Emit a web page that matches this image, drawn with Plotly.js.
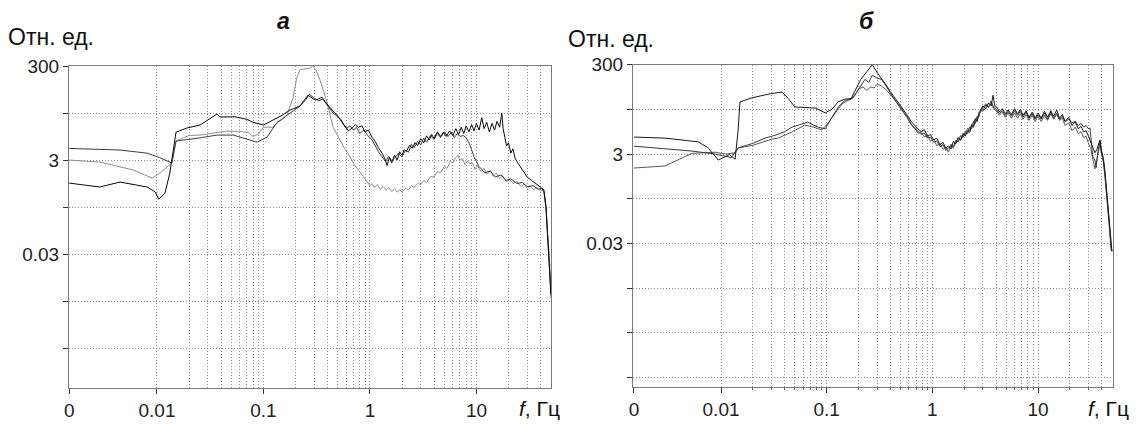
<!DOCTYPE html>
<html>
<head>
<meta charset="utf-8">
<script src="https://cdn.plot.ly/plotly-3.0.1.min.js"></script>
<style>
  html, body { margin: 0; padding: 0; background: #fff; }
  #chart { width: 1140px; height: 424px; }
</style>
</head>
<body>
<div id="chart"></div>
<script>
// ---------- Panel "а" (left) ----------
const leftF1 = [0.0015,0.0029,0.0045,0.0081,0.0096,0.0104,0.0119,0.0132,0.0151,0.0191,0.0254,0.0366,0.039,0.054,0.07,0.08,0.1,0.123,0.15,0.177,0.22,0.262,0.285,0.305,0.33,0.354,0.39,0.42,0.47,0.53,0.58,0.63,0.68,0.73,0.78,0.84,0.9,0.97,1.05,1.12,1.2,1.3,1.38,1.45,1.52,1.6,1.7,1.8,1.9,2.0,2.1,2.2,2.35,2.5,2.65,2.8,3.0,3.2,3.4,3.6,3.8,4.0,4.3,4.6,4.9,5.2,5.6,6.0,6.4,6.8,7.2,7.6,8.0,8.5,9.0,9.5,10,10.6,11.2,11.8,12.5,13.2,14,14.8,15.6,16.5,17.3,17.8,18.5,19.2,20,21,22,23,24.5,26,28,30,33,36,40,43,45,47,49,50];
const leftV1 = [0.97,0.80,1.02,0.80,0.63,0.44,0.60,1.59,11.8,14.4,16.7,28.6,24.7,25,22,19,16.7,21.3,27,34.7,42.3,72,62,56.7,60,65.6,48,40,30,22,16,12.5,14.5,17,15,16,12,13,9,7.5,5.5,4.2,3.2,2.3,3.4,2.6,3.8,3.0,4.5,3.8,5.0,4.6,6.2,5.4,7.0,6.1,8.5,7.0,9.8,8.0,10.5,8.6,12,9.5,11.8,9.6,12.5,10,14,10.5,15,11,16,12,17,12.5,18,13,24,14,19,12,18,13,20,15,30,14,9,6,7,4.2,5.2,3.3,2.6,2.1,1.6,1.3,1.1,0.95,0.82,0.7,0.3,0.06,0.015,0.004];

const leftF2 = [0.0015,0.0029,0.006,0.009,0.0107,0.0138,0.0151,0.02,0.0254,0.0366,0.045,0.06,0.072,0.08,0.09,0.1,0.123,0.143,0.166,0.19,0.205,0.22,0.25,0.27,0.29,0.31,0.34,0.39,0.45,0.52,0.58,0.65,0.72,0.8,0.87,0.93,1.0,1.05,1.1,1.17,1.25,1.33,1.42,1.5,1.6,1.7,1.8,1.9,2.0,2.15,2.3,2.45,2.6,2.8,3.0,3.2,3.4,3.7,4.0,4.3,4.6,5.0,5.3,5.7,6.0,6.4,6.7,7.0,7.4,7.8,8.2,8.7,9.2,9.7,10.2,11,11.8,12.6,13.5,14.4,15.4,16.5,17.6,19,20.3,22,24,26,28,30,32,34.5,37,40,42,43.5,45,46.5,48,49.5,50];
const leftV2 = [3.0,2.72,1.84,1.24,1.59,2.59,7.6,10,10.2,11.8,12.4,12.2,11.5,9.5,11,15,15,21,27,65,165,250,265,270,300,250,150,57,15,8,5.2,3.5,2.3,1.7,1.3,1.05,0.85,0.95,0.78,0.9,0.72,0.82,0.68,0.78,0.64,0.74,0.62,0.7,0.63,0.75,0.7,0.85,0.78,0.95,0.9,1.1,1.0,1.35,1.3,1.7,1.6,2.2,2.0,2.8,2.6,3.4,3.8,3.0,3.2,2.4,2.9,2.5,2.6,1.9,2.3,1.7,2.0,1.5,1.8,1.35,1.6,1.2,1.4,1.05,1.2,0.95,1.05,0.82,0.92,0.75,0.85,0.7,0.78,0.65,0.72,0.55,0.25,0.08,0.035,0.01,0.0035];

const leftF3 = [0.0015,0.003,0.0045,0.0081,0.0105,0.0138,0.0151,0.0254,0.0366,0.052,0.075,0.087,0.108,0.134,0.15,0.17,0.19,0.22,0.25,0.27,0.3,0.33,0.36,0.4,0.45,0.5,0.55,0.6,0.65,0.7,0.75,0.8,0.88,0.95,1.05,1.12,1.2,1.3,1.4,1.5,1.6,1.7,1.85,2.0,2.15,2.3,2.45,2.6,2.8,3.0,3.2,3.4,3.7,4.0,4.3,4.6,5.0,5.4,5.8,6.2,6.6,7.0,7.5,8.0,8.5,9.0,9.5,10,10.5,11,12,13.5,15,17,19,21,24,27,30,34,38,41,43,45,47,49,50];
const leftV3 = [5.3,5.0,4.9,4.2,3.4,2.6,7.6,8.9,10.2,10.2,8,7.2,9.2,19,22,28,33,42,58,75,62,55,60,42,30,25,18,14,16,13,15,11,13,10,8,6,4.5,3.5,2.8,3.6,2.9,3.3,4.2,3.5,4.8,4.4,6.5,5.5,7.5,6.3,8.8,7.2,10,8.2,11,9,12,9.5,11.5,9,11,9.5,10,9,7,5,3.5,2.8,2.2,2.0,1.6,1.75,1.3,1.45,1.1,1.2,0.95,1.0,0.82,0.85,0.72,0.75,0.62,0.3,0.05,0.012,0.0045];

// ---------- Panel "б" (right) ----------
const rightF1 = [0.0015,0.003,0.0061,0.0075,0.0094,0.012,0.0136,0.0145,0.0151,0.02,0.03,0.038,0.044,0.05,0.062,0.078,0.097,0.112,0.128,0.149,0.17,0.19,0.21,0.24,0.27,0.3,0.33,0.37,0.4,0.44,0.48,0.53,0.58,0.63,0.68,0.73,0.78,0.84,0.9,0.96,1.03,1.1,1.18,1.26,1.34,1.42,1.5,1.58,1.66,1.75,1.85,1.95,2.05,2.15,2.25,2.35,2.45,2.55,2.65,2.75,2.85,3.0,3.2,3.4,3.6,3.75,3.9,4.1,4.3,4.6,4.9,5.2,5.6,6.0,6.4,6.8,7.2,7.7,8.2,8.8,9.4,10,10.7,11.5,12.3,13.2,14,15,16,17,18,19.5,21,22.5,24,25.5,27,28.5,30,31.5,33,34.5,36,37.5,38.5,40,41.5,43,44.5,46,47.5,49,50];
const rightV1 = [7.2,6.8,5.6,4.2,2.2,2.9,2.3,10,44,55,68,73,50,34,33,32,25,30,44,51,52,85,140,210,300,200,150,100,75,55,42,31,22,16,13,11,9.5,10.5,7.5,8.2,6.2,6.8,4.8,5.5,4.0,4.6,3.9,5.8,5.0,7.0,6.2,8.5,7.6,10,9,13,12,18,16,25,28,36,31,42,36,62,35,33,26,31,24,29,23,31,24,30,22,28,20,26,19,25,19,27,20,28,21,29,19,23,16,20,13,16,11,12.5,9.5,10,7.5,5.5,4.0,3.2,3.8,5.5,6.2,3.5,2.4,1.2,0.5,0.2,0.08,0.03,0.02];

const rightF2 = [0.0015,0.003,0.0053,0.0088,0.011,0.0125,0.0136,0.0145,0.02,0.026,0.0325,0.04,0.047,0.066,0.083,0.097,0.112,0.13,0.15,0.17,0.19,0.21,0.23,0.25,0.27,0.3,0.33,0.37,0.4,0.44,0.48,0.53,0.58,0.63,0.68,0.73,0.78,0.84,0.9,0.96,1.03,1.1,1.18,1.26,1.34,1.42,1.5,1.58,1.66,1.75,1.85,1.95,2.05,2.15,2.25,2.35,2.45,2.55,2.65,2.75,2.85,3.0,3.2,3.4,3.6,3.8,4.0,4.3,4.6,4.9,5.2,5.6,6.0,6.4,6.8,7.2,7.7,8.2,8.8,9.4,10,10.7,11.5,12.3,13.2,14,15,16,17,18,19.5,21,22.5,24,25.5,27,28.5,30,31,32,33,34.5,35.5,36.5,37.5,38.5,40,41.5,43,44.5,46,47.5,49,50];
const rightV2 = [4.5,4.0,3.5,3.0,2.7,2.5,3.3,4.1,5.2,6.8,7.9,9.5,12,15.5,12,11,20,35,48,50,70,100,140,120,175,150,140,95,70,48,38,28,20,14,11,9.8,8.2,8.9,6.8,7.2,5.5,5.9,4.4,4.9,3.6,4.1,4.6,4.4,6.0,5.6,7.8,7.0,9.5,8.6,12,11,16,14.5,21,20,30,27,38,33,46,33,31,24,28,22,27,21,28,22,27,20,26,19,24,18,23,18,25,18,26,19,25,18,21,16,18,15,16,13,14.5,12,13,11,11.5,5,2.6,2.2,1.5,3.0,4.5,5.8,3.0,2.2,1.0,0.45,0.18,0.07,0.025,0.02];

const rightF3 = [0.0015,0.00295,0.0053,0.0088,0.011,0.0136,0.0145,0.02,0.0304,0.0346,0.047,0.062,0.075,0.09,0.103,0.12,0.14,0.16,0.18,0.2,0.22,0.24,0.26,0.28,0.3,0.33,0.37,0.4,0.44,0.48,0.53,0.58,0.63,0.68,0.73,0.78,0.84,0.9,0.96,1.03,1.1,1.18,1.26,1.34,1.42,1.5,1.58,1.66,1.75,1.85,1.95,2.05,2.15,2.25,2.35,2.45,2.55,2.65,2.75,2.85,3.0,3.2,3.4,3.6,3.8,4.0,4.3,4.6,4.9,5.2,5.6,6.0,6.4,6.8,7.2,7.7,8.2,8.8,9.4,10,10.7,11.5,12.3,13.2,14,15,16,17,18,19.5,21,22.5,24,25.5,27,28.5,30,31.5,33,34.5,36,37.5,38.5,40,41.5,43,44.5,46,47.5,49,50];
const rightV3 = [1.46,1.62,3.1,3.3,3.0,3.2,4.1,4.7,6.5,6.8,9.4,13.3,12,10.4,14.8,24.8,40,48,55,85,95,80,95,90,110,100,80,64,50,36,26,19,13.5,12,8.8,9.2,7.2,7.8,5.8,6.4,4.6,5.2,3.8,4.3,3.3,5.0,4.0,5.5,6.6,6.0,8.8,8.0,11.5,10,14,13,19,17,23,26,31,40,35,39,31,28,22,26,20,25,19,25,19,24,18,23,17,22,16,21,16,22,17,24,18,23,17,19,13,15,10,12,8.5,9.5,7,7.5,5.2,4.0,2.3,1.4,2.2,4.0,5.0,2.8,2.0,0.9,0.4,0.15,0.06,0.022,0.02];

// ---------- Ticks / labels ----------
const xTickVals = [0.0015, 0.01, 0.1, 1, 10];
const xTickText = ["0", "0.01", "0.1", "1", "10"];
const xGridVals = [0.02,0.03,0.04,0.05,0.06,0.07,0.08,0.09,0.2,0.3,0.4,0.5,0.6,0.7,0.8,0.9,2,3,4,5,6,7,8,9,20,30,40];
const yTickVals = [300, 30, 3, 0.3, 0.03, 0.003, 0.0003, 0.00003];
const yTickText = ["300", "", "3", "", "0.03", "", "", ""];
const panelTitles = ["а", "б"];
const yLabel = "Отн. ед.";
const xLabel = "<i>f</i>, Гц";

const W = 1140, H = 424;
const FONT = '"Liberation Sans", Arial, sans-serif';
const GRID = '#8f8f8f';
const DASH = '1px,2px';

function xAxis(d0, d1, range, anchor, minorTicks) {
  return {
    type: 'log', range: range, domain: [d0 / W, d1 / W], anchor: anchor,
    tickmode: 'array', tickvals: xTickVals, ticktext: xTickText,
    ticks: 'outside', ticklen: 5, tickwidth: 1, tickcolor: '#333',
    showline: true, linecolor: '#7a7a7a', linewidth: 1, mirror: true,
    showgrid: true, gridcolor: GRID, griddash: DASH, gridwidth: 1,
    minor: { tickmode: 'array', tickvals: xGridVals, showgrid: true, gridcolor: GRID,
             griddash: DASH, gridwidth: 1, ticks: minorTicks ? 'outside' : '', ticklen: 2, tickcolor: '#666' },
    tickfont: { family: FONT, size: 19, color: '#222' },
    zeroline: false, fixedrange: true
  };
}
function yAxis(top, bottom, range, anchor) {
  return {
    type: 'log', range: range, domain: [1 - bottom / H, 1 - top / H], anchor: anchor,
    tickmode: 'array', tickvals: yTickVals, ticktext: yTickText,
    ticks: 'outside', ticklen: 5, tickwidth: 1, tickcolor: '#333',
    showline: true, linecolor: '#7a7a7a', linewidth: 1, mirror: true,
    showgrid: true, gridcolor: GRID, griddash: DASH, gridwidth: 1,
    tickfont: { family: FONT, size: 19, color: '#222' },
    zeroline: false, fixedrange: true
  };
}

function line(x, y, color, xa, ya) {
  return { x: x, y: y, type: 'scatter', mode: 'lines', xaxis: xa, yaxis: ya,
           line: { color: color, width: 1 }, hoverinfo: 'skip' };
}

const data = [
  line(leftF2, leftV2, '#8e8e8e', 'x', 'y'),
  line(leftF3, leftV3, '#3e3e3e', 'x', 'y'),
  line(leftF1, leftV1, '#0a0a0a', 'x', 'y'),
  line(rightF3, rightV3, '#5a5a5a', 'x2', 'y2'),
  line(rightF2, rightV2, '#3a3a3a', 'x2', 'y2'),
  line(rightF1, rightV1, '#1a1a1a', 'x2', 'y2')
];

function ann(text, px, py, size, xanchor, extra) {
  return Object.assign({ text: text, xref: 'paper', yref: 'paper', x: px / W, y: 1 - py / H,
    xanchor: xanchor, yanchor: 'middle', showarrow: false,
    font: { family: FONT, size: size, color: '#111' } }, extra || {});
}

const layout = {
  width: W, height: H, margin: { l: 0, r: 0, t: 0, b: 0 },
  paper_bgcolor: '#fff', plot_bgcolor: '#fff', showlegend: false,
  xaxis: xAxis(69, 551, [-2.826, 1.700], 'y', false),
  yaxis: yAxis(66, 388, [-4.374, 2.4785], 'x'),
  xaxis2: xAxis(633, 1113, [-2.833, 1.709], 'y2', true),
  yaxis2: yAxis(64.6, 387, [-4.736, 2.4785], 'x2'),
  annotations: [
    ann('<b><i>' + panelTitles[0] + '</i></b>', 283, 21, 23, 'center'),
    ann('<b><i>' + panelTitles[1] + '</i></b>', 866, 21, 23, 'center'),
    ann(yLabel, 6, 37, 23, 'left'),
    ann(yLabel, 566, 39, 23, 'left'),
    ann(xLabel, 517, 408, 21, 'left'),
    ann(xLabel, 1086, 408, 21, 'left')
  ]
};

Plotly.newPlot('chart', data, layout, { displayModeBar: false, staticPlot: true });
</script>
</body>
</html>
